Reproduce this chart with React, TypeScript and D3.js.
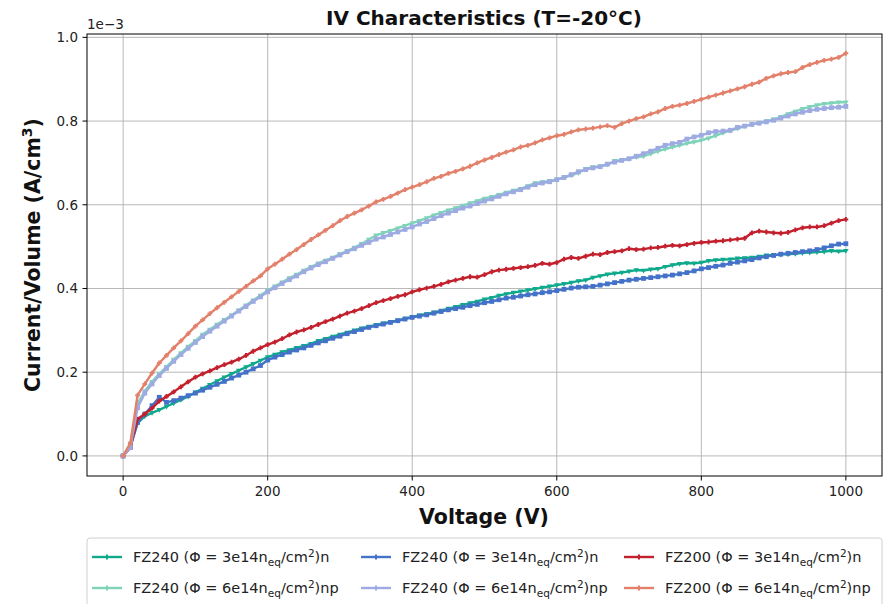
import React from "react";
import * as d3 from "d3";

const voltages: number[] = Array.from({ length: 101 }, (_, i) => i * 10);

const fz240_3e14_n_a: number[] = [
  0, 0.025, 0.078, 0.095, 0.103, 0.11, 0.118, 0.126, 0.134, 0.142,
  0.152, 0.161, 0.17, 0.179, 0.188, 0.196, 0.204, 0.212, 0.22, 0.228,
  0.236, 0.242, 0.248, 0.253, 0.258, 0.263, 0.268, 0.275, 0.28, 0.285,
  0.29, 0.295, 0.3, 0.305, 0.309, 0.313, 0.317, 0.32, 0.324, 0.328,
  0.332, 0.336, 0.339, 0.343, 0.347, 0.352, 0.356, 0.361, 0.365, 0.369,
  0.374, 0.378, 0.383, 0.387, 0.39, 0.393, 0.396, 0.399, 0.402, 0.405,
  0.408, 0.411, 0.414, 0.418, 0.42, 0.426, 0.43, 0.434, 0.436, 0.438,
  0.441, 0.444, 0.443, 0.446, 0.447, 0.452, 0.456, 0.459, 0.461, 0.46,
  0.462, 0.466, 0.468, 0.469, 0.47, 0.472, 0.473, 0.474, 0.476, 0.479,
  0.48, 0.481, 0.482, 0.483, 0.485, 0.486, 0.487, 0.488, 0.49, 0.489,
  0.49,
];

const fz240_3e14_n_b: number[] = [
  0, 0.02, 0.08, 0.1, 0.12, 0.14, 0.128, 0.132, 0.138, 0.144,
  0.15, 0.157, 0.164, 0.171, 0.178, 0.186, 0.193, 0.2, 0.208, 0.216,
  0.229, 0.236, 0.242, 0.248, 0.253, 0.258, 0.264, 0.27, 0.275, 0.281,
  0.286, 0.292, 0.297, 0.302, 0.307, 0.311, 0.315, 0.319, 0.323, 0.327,
  0.331, 0.334, 0.337, 0.341, 0.345, 0.349, 0.352, 0.355, 0.359, 0.362,
  0.366, 0.369, 0.373, 0.377, 0.379, 0.382, 0.385, 0.387, 0.39, 0.392,
  0.395, 0.398, 0.401, 0.403, 0.404, 0.405, 0.408, 0.411, 0.414, 0.417,
  0.42, 0.422, 0.424, 0.426, 0.428, 0.43, 0.432, 0.435, 0.438, 0.442,
  0.447, 0.45, 0.453, 0.456, 0.46, 0.463, 0.466, 0.469, 0.473, 0.476,
  0.479, 0.482, 0.484, 0.486, 0.488, 0.49, 0.493, 0.497, 0.502, 0.506,
  0.507,
];

const fz200_3e14_n: number[] = [
  0, 0.02, 0.088, 0.1, 0.114, 0.131, 0.142, 0.153, 0.165, 0.177,
  0.188, 0.196, 0.203, 0.211, 0.218, 0.224, 0.231, 0.24, 0.25, 0.258,
  0.266, 0.272, 0.28, 0.289, 0.296, 0.301, 0.307, 0.314, 0.321, 0.327,
  0.334, 0.341, 0.346, 0.352, 0.359, 0.366, 0.371, 0.376, 0.381, 0.385,
  0.392, 0.397, 0.401, 0.405, 0.41, 0.416, 0.42, 0.424, 0.428, 0.427,
  0.433, 0.44, 0.444, 0.446, 0.448, 0.45, 0.452, 0.455, 0.46, 0.458,
  0.462, 0.47, 0.474, 0.472, 0.477, 0.482, 0.481, 0.486, 0.488, 0.49,
  0.495, 0.493, 0.494, 0.497, 0.498, 0.501, 0.503, 0.502, 0.505, 0.508,
  0.51, 0.511, 0.513, 0.514, 0.516, 0.518, 0.52, 0.533, 0.537, 0.535,
  0.533, 0.532, 0.534, 0.54, 0.545, 0.547, 0.547, 0.55, 0.556, 0.562,
  0.565,
];

const fz240_6e14_np_a: number[] = [
  0, 0.03, 0.125, 0.155, 0.177, 0.196, 0.213, 0.23, 0.246, 0.261,
  0.275, 0.29, 0.302, 0.314, 0.325, 0.336, 0.348, 0.36, 0.372, 0.383,
  0.395, 0.405, 0.415, 0.425, 0.433, 0.443, 0.452, 0.46, 0.467, 0.474,
  0.482, 0.49, 0.498, 0.507, 0.517, 0.527, 0.533, 0.538, 0.544, 0.55,
  0.556, 0.562, 0.568, 0.575, 0.581, 0.587, 0.592, 0.598, 0.604, 0.609,
  0.615, 0.619, 0.624, 0.629, 0.634, 0.638, 0.645, 0.652, 0.654, 0.657,
  0.66, 0.666, 0.67, 0.676, 0.686, 0.69, 0.692, 0.696, 0.705, 0.707,
  0.71, 0.714, 0.716, 0.722, 0.728, 0.733, 0.738, 0.742, 0.747, 0.75,
  0.754, 0.759, 0.765, 0.772, 0.777, 0.782, 0.788, 0.792, 0.796, 0.8,
  0.804, 0.81, 0.817, 0.823, 0.829, 0.834, 0.838, 0.841, 0.843, 0.845,
  0.845,
];

const fz240_6e14_np_b: number[] = [
  0, 0.02, 0.115, 0.15, 0.172, 0.192, 0.209, 0.226, 0.242, 0.257,
  0.271, 0.285, 0.298, 0.31, 0.322, 0.334, 0.346, 0.357, 0.369, 0.38,
  0.392, 0.402, 0.412, 0.421, 0.43, 0.44, 0.449, 0.457, 0.464, 0.472,
  0.48, 0.488, 0.495, 0.503, 0.51, 0.518, 0.523, 0.529, 0.535, 0.541,
  0.547, 0.554, 0.56, 0.567, 0.574, 0.58, 0.586, 0.592, 0.597, 0.603,
  0.609, 0.614, 0.62, 0.626, 0.631, 0.636, 0.642, 0.648, 0.652, 0.655,
  0.66, 0.665, 0.672, 0.679, 0.684, 0.688, 0.691, 0.697, 0.702, 0.706,
  0.71, 0.716, 0.722, 0.728, 0.735, 0.742, 0.746, 0.749, 0.757, 0.762,
  0.766, 0.772, 0.775, 0.776, 0.778, 0.785, 0.788, 0.792, 0.795, 0.798,
  0.802, 0.807, 0.812, 0.817, 0.821, 0.825, 0.828, 0.83, 0.832, 0.833,
  0.835,
];

const fz200_6e14_np: number[] = [
  0, 0.03, 0.145, 0.172, 0.198, 0.222, 0.24, 0.258, 0.275, 0.292,
  0.31, 0.325, 0.34, 0.354, 0.367, 0.38, 0.393, 0.405, 0.418, 0.43,
  0.447, 0.458, 0.47, 0.482, 0.493, 0.505, 0.517, 0.528, 0.539, 0.55,
  0.562, 0.572, 0.58, 0.588, 0.597, 0.607, 0.613, 0.62, 0.628, 0.636,
  0.642, 0.648, 0.655, 0.663, 0.668, 0.675, 0.68, 0.686, 0.692, 0.7,
  0.707, 0.713, 0.72, 0.726, 0.731, 0.738, 0.742, 0.748, 0.755, 0.76,
  0.765, 0.768, 0.774, 0.779, 0.781, 0.783, 0.786, 0.789, 0.785, 0.794,
  0.8, 0.806, 0.81, 0.817, 0.822, 0.83, 0.835, 0.838, 0.842, 0.847,
  0.852, 0.857, 0.862, 0.867, 0.872, 0.877, 0.882, 0.888, 0.893, 0.902,
  0.908, 0.913, 0.916, 0.918, 0.928, 0.935, 0.94, 0.945, 0.948, 0.952,
  0.962,
];

const xTicks: number[] = [0, 200, 400, 600, 800, 1000];
const yTicks: number[] = [0, 0.2, 0.4, 0.6, 0.8, 1.0];

type Series = {
  name: string;
  fluence: string;
  suffix: string;
  values: number[];
  color: string;
  marker: string;
};

const seriesList: Series[] = [
  { name: "FZ240", fluence: "3e14", suffix: "n", values: fz240_3e14_n_a, color: "#0fa98b", marker: "v" },
  { name: "FZ240", fluence: "3e14", suffix: "n", values: fz240_3e14_n_b, color: "#4472c9", marker: "s" },
  { name: "FZ200", fluence: "3e14", suffix: "n", values: fz200_3e14_n, color: "#c3202d", marker: "p" },
  { name: "FZ240", fluence: "6e14", suffix: "np", values: fz240_6e14_np_a, color: "#7ed3b8", marker: "v" },
  { name: "FZ240", fluence: "6e14", suffix: "np", values: fz240_6e14_np_b, color: "#9dabe2", marker: "s" },
  { name: "FZ200", fluence: "6e14", suffix: "np", values: fz200_6e14_np, color: "#e3806b", marker: "p" },
];

const W = 885;
const H = 604;
const M = { left: 87, right: 882, top: 34, bottom: 476 };
const FONT = "'DejaVu Sans', sans-serif";

function Marker({ type, x, y, color }: { type: string; x: number; y: number; color: string }) {
  const r = 2.4;
  if (type === "s") {
    return <rect x={x - r} y={y - r} width={2 * r} height={2 * r} fill={color} />;
  }
  if (type === "v") {
    return <path d={`M${x - r - 0.4},${y - r + 0.6}L${x + r + 0.4},${y - r + 0.6}L${x},${y + r + 0.6}Z`} fill={color} />;
  }
  return (
    <path
      d={`M${x - r},${y}L${x + r},${y}M${x},${y - r}L${x},${y + r}`}
      stroke={color}
      strokeWidth={2}
    />
  );
}

function LegendLabel({ s, x, y }: { s: Series; x: number; y: number }) {
  return (
    <text x={x} y={y} fontFamily={FONT} fontSize={14.5} fill="#222">
      {`${s.name} (Φ = ${s.fluence}n`}
      <tspan dy={3.5} fontSize={10.5}>eq</tspan>
      <tspan dy={-3.5}>/cm</tspan>
      <tspan dy={-5.5} fontSize={10.5}>2</tspan>
      <tspan dy={5.5}>{`)${s.suffix}`}</tspan>
    </text>
  );
}

export default function App() {
  const x = d3.scaleLinear().domain([-50, 1050]).range([M.left, M.right]);
  const y = d3.scaleLinear().domain([-0.048, 1.008]).range([M.bottom, M.top]);
  const line = d3
    .line<number>()
    .x((_, i) => x(voltages[i]))
    .y((d) => y(d));

  const legendCols = [92, 361, 624];
  const legendRows = [557, 588];

  return (
    <svg
      width={W}
      height={H}
      style={{ position: "fixed", left: 0, top: 0, background: "#fff" }}
    >
      <rect x={0} y={0} width={W} height={H} fill="#fff" />
      {xTicks.map((t) => (
        <line key={"gx" + t} x1={x(t)} x2={x(t)} y1={M.top} y2={M.bottom} stroke="#b0b0b0" strokeWidth={0.9} />
      ))}
      {yTicks.map((t) => (
        <line key={"gy" + t} x1={M.left} x2={M.right} y1={y(t)} y2={y(t)} stroke="#b0b0b0" strokeWidth={0.9} />
      ))}
      {seriesList.map((s, si) => (
        <g key={"s" + si}>
          <path d={line(s.values) || ""} fill="none" stroke={s.color} strokeWidth={2.4} strokeLinejoin="round" />
          {s.values.map((v, i) => (
            <Marker key={i} type={s.marker} x={x(voltages[i])} y={y(v)} color={s.color} />
          ))}
        </g>
      ))}
      <rect x={M.left} y={M.top} width={M.right - M.left} height={M.bottom - M.top} fill="none" stroke="#000" strokeWidth={1} />
      {xTicks.map((t) => (
        <g key={"xt" + t}>
          <line x1={x(t)} x2={x(t)} y1={M.bottom} y2={M.bottom + 4.5} stroke="#000" />
          <text x={x(t)} y={M.bottom + 20} textAnchor="middle" fontFamily={FONT} fontSize={13.5} fill="#222">
            {d3.format("d")(t)}
          </text>
        </g>
      ))}
      {yTicks.map((t) => (
        <g key={"yt" + t}>
          <line x1={M.left - 4.5} x2={M.left} y1={y(t)} y2={y(t)} stroke="#000" />
          <text x={M.left - 9} y={y(t) + 4.8} textAnchor="end" fontFamily={FONT} fontSize={13.5} fill="#222">
            {d3.format(".1f")(t)}
          </text>
        </g>
      ))}
      <text x={M.left} y={29} fontFamily={FONT} fontSize={13.5} fill="#222">1e−3</text>
      <text x={484} y={25} textAnchor="middle" fontFamily={FONT} fontSize={20} fontWeight="bold" fill="#111">
        IV Characteristics (T=-20°C)
      </text>
      <text x={484} y={524} textAnchor="middle" fontFamily={FONT} fontSize={20.5} fontWeight="bold" fill="#111">
        Voltage (V)
      </text>
      <text
        transform={`translate(40,${(M.top + M.bottom) / 2}) rotate(-90)`}
        textAnchor="middle"
        fontFamily={FONT}
        fontSize={20.5}
        fontWeight="bold"
        fill="#111"
      >
        Current/Volume (A/cm
        <tspan dy={-8} fontSize={14}>3</tspan>
        <tspan dy={8}>)</tspan>
      </text>
      <rect x={87} y={538} width={795} height={80} rx={3} fill="#fff" stroke="#d0d0d0" strokeWidth={1} />
      {seriesList.map((s, i) => {
        const cx = legendCols[i % 3];
        const cy = legendRows[Math.floor(i / 3)];
        return (
          <g key={"lg" + i}>
            <line x1={cx} x2={cx + 30} y1={cy} y2={cy} stroke={s.color} strokeWidth={2.4} />
            <Marker type="p" x={cx + 15} y={cy} color={s.color} />
            <LegendLabel s={s} x={cx + 41} y={cy + 5} />
          </g>
        );
      })}
    </svg>
  );
}
